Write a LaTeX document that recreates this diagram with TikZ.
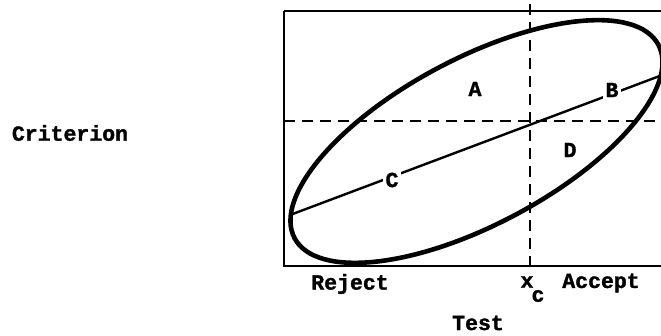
\documentclass[tikz,border=0pt]{standalone}
\usepackage{fontspec}
\setmonofont{Liberation Mono}[FakeBold=1.5]
\begin{document}
\begin{tikzpicture}[x=1pt,y=-1pt,
  lbl/.style={font=\ttfamily\bfseries\fontsize{21.5}{24}\selectfont, inner sep=1pt},
  gaplbl/.style={lbl, fill=white, inner sep=3pt},
  cutline/.style={line width=2.6pt, dash pattern=on 11pt off 7pt}]
\useasboundingbox (0,0) rectangle (661,336);
\clip (0,0) rectangle (661,336);
% frame
\draw[line width=2.2pt] (284,11) -- (670,11) (284,11) -- (284,266) -- (670,266);
% dashed cut lines
\coordinate (vtop) at (530,4);
\coordinate (vbot) at (530,266);
\coordinate (hl) at (284,121);
\coordinate (hr) at (661,121);
\draw[cutline] (vtop) -- (vbot);
\draw[cutline] (hl) -- (hr);
% ellipse
\coordinate (ctr) at (476.5,141.5);
\draw[line width=4.6pt, rotate around={28:(ctr)}] (ctr) ellipse [x radius=206pt, y radius=83pt];
% regression line
\coordinate (rl) at (290,215);
\coordinate (rr) at (665,74);
\draw[line width=2.4pt] (rl) -- (rr);
\node[gaplbl] (C) at (392,180) {C};
\node[gaplbl] (B) at (612,90) {B};
\node[lbl] (A) at (475,89) {A};
\node[lbl] (D) at (570,150) {D};
% axis texts
\node[lbl] (crit) at (70,133) {Criterion};
\node[lbl] (rej) at (350,284) {Reject};
\node[lbl] (xc) at (527,282) {x};
\node[lbl] (c) at (538,296) {c};
\node[lbl] (acc) at (601,283) {Accept};
\node[lbl] (test) at (478,323) {Test};
\end{tikzpicture}
\end{document}
